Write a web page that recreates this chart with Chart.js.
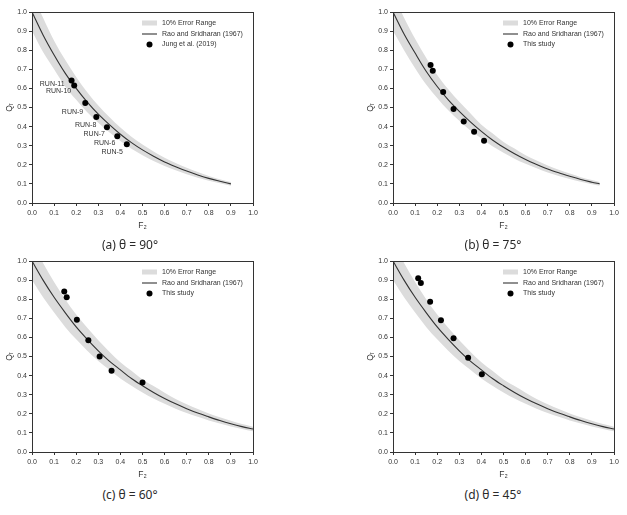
<!DOCTYPE html>
<html>
<head>
<meta charset="utf-8">
<script src="https://cdn.jsdelivr.net/npm/chart.js@4"></script>
<style>
  html, body { margin: 0; padding: 0; background: #fff; }
  body { width: 627px; height: 515px; position: relative; overflow: hidden; }
  canvas { position: absolute; }
  .cap {
    position: absolute; width: 200px; margin-left: -100px; text-align: center;
    font-family: 'Noto Sans', sans-serif; font-size: 12px; line-height: 14px; color: #2a2a2a;
  }
</style>
</head>
<body>
<canvas id="chart-a" width="265" height="235" style="left:0px;top:0px"></canvas>
<canvas id="chart-b" width="265" height="235" style="left:361px;top:0px"></canvas>
<canvas id="chart-c" width="265" height="235" style="left:0px;top:249px"></canvas>
<canvas id="chart-d" width="265" height="235" style="left:361px;top:249px"></canvas>
<div class="cap" id="cap-a" style="left:130px;top:238px"></div>
<div class="cap" id="cap-b" style="left:493px;top:238px"></div>
<div class="cap" id="cap-c" style="left:130px;top:488px"></div>
<div class="cap" id="cap-d" style="left:493px;top:488px"></div>
<script>
/* global Chart */

// Daten
// ----------------------------------------------------------------------------------------
const legendTexts = ['10% Error Range', 'Rao and Sridharan (1967)'];
const captions    = ['(a) θ = 90°', '(b) θ = 75°', '(c) θ = 60°', '(d) θ = 45°'];

// (a) 90°
const f2GridA  = [0, 0.05, 0.1, 0.15, 0.2, 0.25, 0.3, 0.35, 0.4, 0.45, 0.5, 0.55, 0.6, 0.65, 0.7, 0.75, 0.8, 0.85, 0.9];
const qrCurveA = [1.0, 0.88, 0.775, 0.68, 0.60, 0.528, 0.465, 0.41, 0.36, 0.316, 0.278, 0.245, 0.215, 0.19, 0.167, 0.147, 0.129, 0.114, 0.10];
const qrUpperA = [1.10, 0.97, 0.85, 0.75, 0.66, 0.58, 0.51, 0.45, 0.395, 0.347, 0.306, 0.27, 0.237, 0.209, 0.184, 0.162, 0.142, 0.125, 0.11];
const qrLowerA = [0.90, 0.79, 0.70, 0.61, 0.54, 0.475, 0.42, 0.37, 0.324, 0.284, 0.25, 0.22, 0.194, 0.171, 0.15, 0.132, 0.116, 0.103, 0.09];
const jungF2   = [0.179, 0.191, 0.241, 0.291, 0.339, 0.386, 0.429];
const jungQr   = [0.641, 0.615, 0.524, 0.450, 0.396, 0.349, 0.308];
const runNames = ['RUN-11', 'RUN-10', 'RUN-9', 'RUN-8', 'RUN-7', 'RUN-6', 'RUN-5'];

// (b) 75°
const f2GridB  = [0, 0.05, 0.1, 0.15, 0.2, 0.25, 0.3, 0.35, 0.4, 0.45, 0.5, 0.55, 0.6, 0.65, 0.7, 0.75, 0.8, 0.85, 0.9, 0.935];
const qrCurveB = [1.0, 0.885, 0.785, 0.69, 0.61, 0.54, 0.48, 0.425, 0.375, 0.33, 0.292, 0.258, 0.228, 0.202, 0.178, 0.158, 0.14, 0.123, 0.109, 0.10];
const qrUpperB = [1.10, 0.97, 0.86, 0.76, 0.67, 0.595, 0.53, 0.47, 0.41, 0.365, 0.32, 0.285, 0.25, 0.222, 0.196, 0.174, 0.154, 0.135, 0.12, 0.11];
const qrLowerB = [0.90, 0.80, 0.705, 0.62, 0.55, 0.485, 0.43, 0.38, 0.338, 0.297, 0.263, 0.232, 0.205, 0.182, 0.16, 0.142, 0.126, 0.111, 0.098, 0.09];
const studyF2B = [0.170, 0.180, 0.227, 0.274, 0.320, 0.367, 0.412];
const studyQrB = [0.722, 0.692, 0.581, 0.492, 0.427, 0.373, 0.326];

// (c) 60° und (d) 45° – gleiche Kurve
const f2GridCD  = [0, 0.05, 0.1, 0.15, 0.2, 0.25, 0.3, 0.35, 0.4, 0.45, 0.5, 0.55, 0.6, 0.65, 0.7, 0.75, 0.8, 0.85, 0.9, 0.95, 1.0];
const qrCurveCD = [1.0, 0.90, 0.81, 0.73, 0.655, 0.59, 0.53, 0.476, 0.43, 0.385, 0.347, 0.312, 0.28, 0.252, 0.227, 0.204, 0.184, 0.165, 0.148, 0.133, 0.12];
const qrUpperCD = [1.10, 0.99, 0.89, 0.80, 0.72, 0.65, 0.585, 0.525, 0.47, 0.425, 0.38, 0.345, 0.31, 0.277, 0.25, 0.225, 0.202, 0.182, 0.163, 0.146, 0.132];
const qrLowerCD = [0.90, 0.81, 0.73, 0.655, 0.59, 0.53, 0.477, 0.43, 0.385, 0.347, 0.312, 0.28, 0.252, 0.227, 0.204, 0.184, 0.165, 0.149, 0.133, 0.12, 0.108];
const studyF2C  = [0.146, 0.157, 0.203, 0.255, 0.306, 0.360, 0.500];
const studyQrC  = [0.840, 0.810, 0.692, 0.585, 0.500, 0.425, 0.364];
const studyF2D  = [0.114, 0.126, 0.168, 0.217, 0.274, 0.340, 0.402];
const studyQrD  = [0.910, 0.885, 0.786, 0.690, 0.595, 0.494, 0.407];

(() => {
  const FONT  = "'Liberation Sans', Arial, sans-serif";
  const INK   = '#333';
  const BAND  = '#dcdcdc';

  const pts = (xs, ys) => xs.map((x, i) => ({ x, y: ys[i] }));

  // Rahmen um die Plotfläche
  // ----------------------------------------------------------------------------------------
  const framePlugin = {
    id: 'frame',
    afterDatasetsDraw(chart) {
      const { ctx, chartArea: a } = chart;
      ctx.save();
      ctx.strokeStyle = INK;
      ctx.lineWidth = 1;
      ctx.strokeRect(Math.round(a.left) + 0.5, Math.round(a.top) + 0.5,
                     Math.round(a.right - a.left), Math.round(a.bottom - a.top));
      ctx.restore();
    }
  };

  // Legende oben rechts in der Plotfläche
  // ----------------------------------------------------------------------------------------
  const legendPlugin = (pointText) => ({
    id: 'panelLegend',
    afterDraw(chart) {
      const { ctx, chartArea: a } = chart;
      const x0 = a.left + 110, tx = a.left + 130;
      const rows = [a.top + 11, a.top + 22, a.top + 32.5];
      ctx.save();
      ctx.fillStyle = BAND;
      ctx.fillRect(x0, rows[0] - 2.5, 15, 5);
      ctx.strokeStyle = INK;
      ctx.lineWidth = 1.1;
      ctx.beginPath(); ctx.moveTo(x0, rows[1]); ctx.lineTo(x0 + 15, rows[1]); ctx.stroke();
      ctx.fillStyle = '#000';
      ctx.beginPath(); ctx.arc(x0 + 7.5, rows[2], 3, 0, Math.PI * 2); ctx.fill();
      ctx.fillStyle = INK;
      ctx.font = '7px ' + FONT;
      ctx.textBaseline = 'middle';
      [legendTexts[0], legendTexts[1], pointText].forEach((t, i) => ctx.fillText(t, tx, rows[i]));
      ctx.restore();
    }
  });

  // RUN-Beschriftungen (nur Panel a)
  // ----------------------------------------------------------------------------------------
  const runLabelPlugin = (names, dx, dy) => ({
    id: 'runLabels',
    afterDatasetsDraw(chart) {
      const { ctx } = chart;
      const meta = chart.getDatasetMeta(0);
      ctx.save();
      ctx.fillStyle = INK;
      ctx.font = '7px ' + FONT;
      ctx.textAlign = 'right';
      ctx.textBaseline = 'middle';
      meta.data.forEach((p, i) => ctx.fillText(names[i], p.x + dx[i], p.y + dy[i]));
      ctx.restore();
    }
  });

  // Chart Builder
  // ----------------------------------------------------------------------------------------
  const axis = (title, isY) => ({
    type: 'linear',
    min: 0, max: 1,
    afterFit: (s) => { if (isY) s.width = 32; else s.height = 32; },
    ticks: {
      stepSize: 0.1, color: INK, padding: isY ? 2 : 3,
      font: { family: FONT, size: 7 },
      callback: (v) => Number(v).toFixed(1)
    },
    grid: { drawOnChartArea: false, drawTicks: true, tickLength: 3, color: INK, lineWidth: 1 },
    border: { display: true, color: INK, width: 1 },
    title: {
      display: true, text: title, color: INK,
      font: { family: FONT, size: 8.5 },
      padding: isY ? { top: 5, bottom: 0 } : { top: 0, bottom: 4 }
    }
  });

  const makeChart = (canvasId, grid, curve, upper, lower, px, py, pointText, extra) => {
    const ctx = document.getElementById(canvasId).getContext('2d');
    const plugins = [framePlugin, legendPlugin(pointText)];
    if (extra) plugins.push(extra);
    return new Chart(ctx, {
      type: 'scatter',
      data: {
        datasets: [
          { label: pointText, data: pts(px, py), pointRadius: 3, pointHoverRadius: 3,
            backgroundColor: '#000', borderColor: '#000', borderWidth: 0, showLine: false },
          { label: legendTexts[1], data: pts(grid, curve), showLine: true, pointRadius: 0,
            borderColor: INK, borderWidth: 1.1, cubicInterpolationMode: 'monotone', fill: false },
          { label: legendTexts[0], data: pts(grid, upper), showLine: true, pointRadius: 0,
            borderWidth: 0, borderColor: 'rgba(0,0,0,0)', backgroundColor: BAND,
            cubicInterpolationMode: 'monotone', fill: '+1' },
          { label: 'lower', data: pts(grid, lower), showLine: true, pointRadius: 0,
            borderWidth: 0, borderColor: 'rgba(0,0,0,0)', cubicInterpolationMode: 'monotone', fill: false }
        ]
      },
      options: {
        responsive: false,
        animation: false,
        layout: { padding: { top: 12, right: 12, left: 0, bottom: 0 } },
        plugins: { legend: { display: false }, tooltip: { enabled: false } },
        scales: { x: axis('F₂', false), y: axis('Qᵣ', true) }
      },
      plugins
    });
  };

  // Panels bauen
  // ----------------------------------------------------------------------------------------
  makeChart('chart-a', f2GridA, qrCurveA, qrUpperA, qrLowerA, jungF2, jungQr, 'Jung et al. (2019)',
    runLabelPlugin(runNames, [-7, -3, -2, 0, -2, -2, -4], [3, 6, 9, 8, 7, 7, 8]));
  makeChart('chart-b', f2GridB, qrCurveB, qrUpperB, qrLowerB, studyF2B, studyQrB, 'This study');
  makeChart('chart-c', f2GridCD, qrCurveCD, qrUpperCD, qrLowerCD, studyF2C, studyQrC, 'This study');
  makeChart('chart-d', f2GridCD, qrCurveCD, qrUpperCD, qrLowerCD, studyF2D, studyQrD, 'This study');

  ['a', 'b', 'c', 'd'].forEach((k, i) => {
    document.getElementById('cap-' + k).textContent = captions[i];
  });
})();
</script>
</body>
</html>
